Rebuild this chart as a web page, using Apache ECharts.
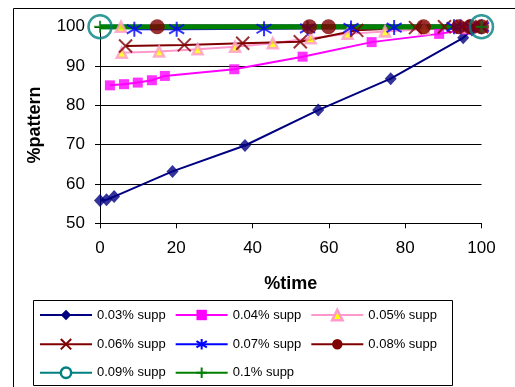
<!DOCTYPE html>
<html><head><meta charset="utf-8">
<script src="https://cdn.jsdelivr.net/npm/echarts@6/dist/echarts.min.js"></script>
<style>html,body{margin:0;padding:0;background:#fff}#c{width:515px;height:387px}</style>
</head><body><div id="c"></div>
<script>
// ---- data ----
const seriesNames = ['0.03% supp','0.04% supp','0.05% supp','0.06% supp','0.07% supp','0.08% supp','0.09% supp','0.1% supp'];
const x003 = [0, 1.7, 3.7, 19, 38, 57.2, 76.2, 95.2, 97.5, 100];
const y003 = [55.8, 56, 56.8, 63.2, 69.8, 78.8, 86.8, 97.2, 99.2, 100];
const x004 = [2.6, 6.3, 9.9, 13.6, 17, 35.2, 53.1, 71.2, 88.9, 96, 100];
const y004 = [85.1, 85.4, 85.8, 86.4, 87.5, 89.2, 92.4, 96.1, 98.2, 99.3, 100];
const x005 = [5.7, 15.5, 25.6, 35.4, 45.3, 55.2, 64.9, 74.7, 85, 95, 100, 5.5];
const y005 = [93.4, 93.7, 94.3, 94.9, 95.8, 97.1, 98.2, 98.8, 99.4, 99.8, 100, 100];
const x006 = [6.7, 22.1, 37.4, 52.5, 67.3, 82.7, 90.3, 95, 98, 100];
const y006 = [95.1, 95.4, 95.8, 96.2, 99.1, 99.8, 100, 100, 100, 100];
const x007 = [9, 20.1, 43, 54.4, 65.8, 77.1, 92.8, 94.5, 97, 100];
const y007 = [99.4, 99.4, 99.5, 99.6, 99.7, 99.8, 100, 100, 100, 100];
const x008 = [15, 54.9, 59.9, 84.8, 94, 97, 100];
const y008 = [100, 100, 100, 100, 100, 100, 100];
const x009 = [0, 100];
const y009 = [100, 100];
const x010 = [0, 100];
const y010 = [100, 100];
const xTicks = [0, 20, 40, 60, 80, 100];
const yTicks = [50, 60, 70, 80, 90, 100];

// ---- styles ----
const FONT = 'Liberation Sans, Arial, sans-serif';
const xs = [x003,x004,x005,x006,x007,x008,x009,x010];
const ys = [y003,y004,y005,y006,y007,y008,y009,y010];
const P_X = 'path://M0,0L10,10M10,0L0,10';
const P_AST = 'path://M5,0L5,10M0.6,2L9.4,8M9.4,2L0.6,8';
const P_PLUS = 'path://M5,0L5,10M0,5L10,5';
const styles = [
  {line:'#000080', lw:2, sym:'diamond', size:[12,13], item:{color:'#000080'}},
  {line:'#FF00FF', lw:2, sym:'rect', size:10, item:{color:'#FF00FF'}},
  {line:'#FF99CC', lw:2, sym:'triangle', size:10, item:{color:'#FFFF00', borderColor:'#FF99CC', borderWidth:2.5}},
  {line:'#800000', lw:2, sym:P_X, size:13, item:{color:'none', borderColor:'#800000', borderWidth:2}},
  {line:'#0000FF', lw:2, sym:P_AST, size:15, item:{color:'none', borderColor:'#0000FF', borderWidth:2}},
  {line:'#800000', lw:5, sym:'circle', size:15, item:{color:'#800000'}},
  {line:'#008080', lw:5, sym:'circle', size:23, item:{color:'none', borderColor:'#008080', borderWidth:2.5}},
  {line:'#008000', lw:5, sym:P_PLUS, size:12, item:{color:'none', borderColor:'#008000', borderWidth:2}}
];

const series = [];
seriesNames.forEach((n, i) => {
  const data = xs[i].map((x, j) => [x, ys[i][j]]);
  series.push({
    type:'line', name:n, data:data, z:2, showSymbol:false,
    symbol: styles[i].sym, symbolSize: styles[i].size,
    itemStyle: styles[i].item,
    lineStyle:{color:styles[i].line, width:styles[i].lw},
    silent:true, animation:false
  });
});
seriesNames.forEach((n, i) => {
  const data = xs[i].map((x, j) => [x, ys[i][j]]);
  series.push({
    type:'scatter', name:'m'+i, data:data, z:3,
    symbol: styles[i].sym, symbolSize: styles[i].size,
    itemStyle: styles[i].item, silent:true, animation:false
  });
});

function legendRow(idx, top) {
  return {
    data: idx.map(i => {
      const it = Object.assign({}, styles[i].item);
      if (i === 6) it.color = '#fff';
      return {name: seriesNames[i], itemStyle: it};
    }),
    left: 39, top: top, padding: 0, itemGap: 9,
    itemWidth: 52, itemHeight: 13, selectedMode: false,
    textStyle: {fontFamily: FONT, fontSize: 13, color: '#000', padding: [0,0,0,0]}
  };
}

const chart = echarts.init(document.getElementById('c'), null, {renderer:'canvas'});
chart.setOption({
  animation:false,
  backgroundColor:'#fff',
  grid:{left:100, right:33.5, top:26.8, bottom:163.7, containLabel:false},
  xAxis:{
    type:'value', min:xTicks[0], max:xTicks[xTicks.length-1], interval:20,
    name:'%time', nameLocation:'middle', nameGap:52,
    nameTextStyle:{fontFamily:FONT, fontSize:18, fontWeight:'bold', color:'#000'},
    axisLine:{show:true, lineStyle:{color:'#000', width:1}},
    axisTick:{show:true, length:5, lineStyle:{color:'#000'}},
    axisLabel:{fontFamily:FONT, fontSize:17, color:'#000', margin:17},
    splitLine:{show:false}
  },
  yAxis:{
    type:'value', min:yTicks[0], max:yTicks[yTicks.length-1], interval:10,
    name:'%pattern', nameLocation:'middle', nameGap:56,
    nameTextStyle:{fontFamily:FONT, fontSize:18, fontWeight:'bold', color:'#000'},
    axisLine:{show:true, lineStyle:{color:'#000', width:1}},
    axisTick:{show:true, length:5, lineStyle:{color:'#000'}},
    axisLabel:{fontFamily:FONT, fontSize:17, color:'#000', margin:15},
    splitLine:{show:true, lineStyle:{color:'#000', width:1}}
  },
  legend:[legendRow([0,1,2], 308.5), legendRow([3,4,5], 336.5), legendRow([6,7], 365)],
  graphic:[
    {type:'rect', shape:{x:13.5, y:8.5, width:600, height:600}, style:{fill:'none', stroke:'#000', lineWidth:1}, silent:true, z:-1},
    {type:'rect', shape:{x:33.5, y:300.5, width:419, height:85}, style:{fill:'none', stroke:'#000', lineWidth:1}, silent:true, z:-1}
  ],
  series:series
});
</script></body></html>
